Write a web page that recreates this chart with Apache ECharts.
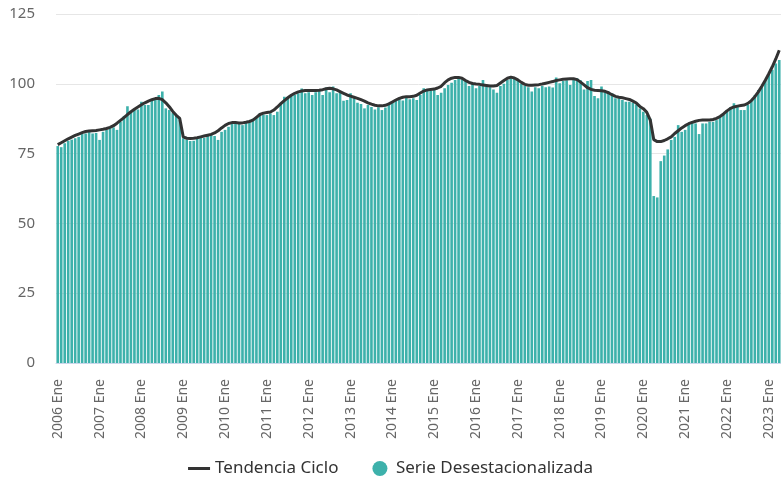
<!DOCTYPE html>
<html>
<head>
<meta charset="utf-8">
<script src="https://cdn.jsdelivr.net/npm/echarts@6/dist/echarts.min.js"></script>
<style>
html,body{margin:0;padding:0;background:#fff;}
#c{width:781px;height:485px;}
</style>
</head>
<body>
<div id="c"></div>
<script>
var years = [2006,2007,2008,2009,2010,2011,2012,2013,2014,2015,2016,2017,2018,2019,2020,2021,2022,2023];
var monthNames = ['Ene','Feb','Mar','Abr','May','Jun','Jul','Ago','Sep','Oct','Nov','Dic'];
var lastYearMonths = 4;

var trend = [
78.2,78.9,79.6,80.3,80.9,81.5,82.0,82.5,82.9,83.1,83.2,83.3,
83.5,83.7,84.0,84.4,85.0,85.9,86.9,87.9,89.0,90.0,90.9,91.7,
92.5,93.2,93.8,94.3,94.7,94.8,94.3,93.2,91.8,90.1,88.7,87.6,
81.0,80.5,80.4,80.5,80.7,81.0,81.3,81.6,81.9,82.4,83.2,84.2,
85.1,85.8,86.1,86.1,86.0,86.0,86.2,86.5,87.0,88.0,89.0,89.5,
89.7,89.9,90.6,91.7,92.9,94.0,95.0,95.9,96.6,97.1,97.4,97.6,
97.6,97.6,97.6,97.7,97.9,98.2,98.4,98.2,97.8,97.2,96.6,96.0,
95.6,95.2,94.8,94.3,93.8,93.2,92.7,92.3,92.1,92.1,92.3,92.8,
93.5,94.2,94.8,95.2,95.4,95.4,95.5,95.9,96.7,97.4,97.8,98.0,
98.1,98.5,99.1,100.4,101.4,102.0,102.3,102.3,102.0,101.2,100.5,100.1,
99.9,99.8,99.6,99.4,99.2,99.2,99.4,100.3,101.2,102.0,102.4,102.1,
101.4,100.5,99.8,99.5,99.5,99.6,99.7,99.9,100.2,100.5,100.8,101.2,
101.4,101.6,101.7,101.8,101.8,101.5,100.6,99.6,98.6,98.0,97.7,97.6,
97.5,97.3,96.8,96.1,95.5,95.2,95.0,94.7,94.4,93.8,93.1,91.9,
91.1,89.8,87.0,80.0,79.3,79.3,79.7,80.3,81.0,82.2,83.2,84.2,
85.0,85.7,86.2,86.6,86.9,87.0,87.0,87.0,87.2,87.6,88.3,89.2,
90.3,91.2,91.7,92.0,92.2,92.4,93.0,94.0,95.4,97.1,99.1,101.3,
103.6,106.1,108.9,112.0
];

var seasonal = [
77.7,77.3,78.7,79.6,80.0,80.5,81.0,82.0,82.2,82.8,82.2,82.4,
79.9,82.8,83.5,84.0,84.4,83.5,86.4,88.5,92.0,90.0,90.6,90.8,
93.6,92.4,92.4,94.0,94.4,96.0,97.2,91.2,90.6,89.5,88.6,87.2,
80.5,80.0,79.5,79.6,80.3,81.0,80.6,81.8,82.0,81.3,79.9,82.8,
83.5,84.6,86.4,86.0,86.0,85.2,86.4,86.2,87.5,88.2,89.4,89.0,
88.8,89.4,88.8,90.0,93.0,95.4,95.0,95.8,96.0,96.6,98.3,96.6,
97.0,96.0,97.0,97.4,96.0,98.7,97.0,99.0,96.6,97.4,93.9,94.2,
96.6,94.8,93.2,92.8,91.2,92.4,91.7,90.8,91.6,90.6,91.5,93.0,
93.5,94.2,94.6,94.0,95.0,94.5,94.8,94.2,96.0,98.4,97.8,97.5,
97.8,96.0,96.8,98.4,99.6,100.4,101.4,102.0,101.6,101.4,99.2,100.4,
98.4,99.2,101.4,99.0,98.8,98.0,96.8,99.2,100.0,101.4,102.3,102.0,
101.4,100.0,99.2,98.8,97.2,98.8,98.4,99.2,98.8,99.0,98.7,102.3,
100.2,101.0,101.3,99.6,101.4,102.0,101.3,98.0,101.0,101.4,95.6,94.8,
99.0,97.2,97.2,96.6,94.8,94.8,94.2,93.6,93.6,93.2,92.6,91.2,
90.0,88.8,87.5,59.8,59.3,72.3,74.3,76.5,79.9,81.0,85.2,82.8,
83.5,85.8,86.4,85.8,82.0,85.8,85.8,86.4,86.4,87.0,88.2,89.0,
90.6,91.6,93.0,92.0,90.6,90.6,92.4,94.2,96.0,97.8,99.2,101.4,
103.2,105.0,107.3,108.5
];

var categories = [];
years.forEach(function(y, yi){
  var n = (yi === years.length - 1) ? lastYearMonths : 12;
  for (var m = 0; m < n; m++) categories.push(y + ' ' + monthNames[m]);
});

var chart = echarts.init(document.getElementById('c'), null, {renderer:'canvas'});
chart.setOption({
  animation: false,
  textStyle: {fontFamily: 'Noto Sans'},
  grid: {left: 56, right: 0, top: 14, bottom: 122, containLabel: false},
  legend: {
    bottom: 3,
    left: 'center',
    itemGap: 34,
    itemWidth: 22,
    itemHeight: 15,
    symbolKeepAspect: true,
    textStyle: {fontSize: 17, color: '#333333', fontFamily: 'Noto Sans'},
    data: [
      {name: 'Tendencia Ciclo', icon: 'path://M0,0 L22,0 L22,3 L0,3 Z'},
      {name: 'Serie Desestacionalizada', icon: 'circle'}
    ]
  },
  xAxis: {
    type: 'category',
    data: categories,
    boundaryGap: true,
    axisLine: {lineStyle: {color: '#ccd6eb', width: 1}},
    axisTick: {alignWithLabel: true, interval: 11, length: 12, lineStyle: {color: '#ccd6eb'}},
    axisLabel: {interval: 11, rotate: 90, margin: 16, fontSize: 14, color: '#666666', fontFamily: 'Noto Sans'},
    splitLine: {show: false}
  },
  yAxis: {
    type: 'value',
    min: 0, max: 125, interval: 25,
    axisLine: {show: false},
    axisTick: {show: false},
    axisLabel: {fontSize: 15, color: '#666666', margin: 21, fontFamily: 'Noto Sans'},
    splitLine: {lineStyle: {color: '#e6e6e6', width: 1}}
  },
  series: [
    {
      name: 'Tendencia Ciclo',
      type: 'line',
      data: trend,
      symbol: 'none',
      smooth: false,
      z: 5,
      lineStyle: {color: '#333333', width: 3},
      itemStyle: {color: '#333333'}
    },
    {
      name: 'Serie Desestacionalizada',
      type: 'bar',
      data: seasonal,
      barCategoryGap: '25%',
      z: 2,
      itemStyle: {color: '#3db1ab'}
    }
  ]
});
</script>
</body>
</html>
